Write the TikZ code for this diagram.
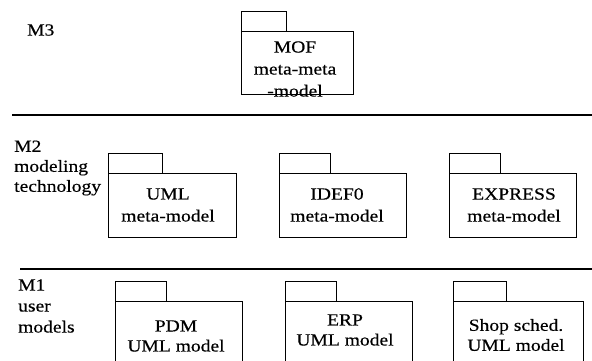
\documentclass[tikz,border=0pt]{standalone}
\usepackage{fontspec}
\setmainfont{Liberation Serif}[FakeStretch=1.15,FakeBold=0.4]
\begin{document}
\begin{tikzpicture}[x=1pt,y=-1pt,
  pkgbody/.style={draw, line width=1pt, rectangle, inner sep=0pt, outer sep=0pt, anchor=north west},
  pkgtab/.style={draw, line width=1pt, rectangle, inner sep=0pt, outer sep=0pt, anchor=south west,
                 minimum height=20pt},
  pkgtext/.style={inner sep=0pt, align=center, font=\fontsize{17}{22}\selectfont},
  pkgtextlow/.style={inner sep=0pt, align=center, font=\fontsize{17}{20}\selectfont},
  levellabel/.style={inner sep=0pt, anchor=west, align=left},
  divider/.style={line width=1.1pt}]
  \clip (0,0) rectangle (592,360);
  \fill[white] (0,0) rectangle (592,360);

  % level M3
  \node[levellabel, font=\fontsize{17}{20}\selectfont] (m3) at (27,30) {M3};
  \node[pkgbody, minimum width=112pt, minimum height=63pt] (mof) at (241,31) {};
  \node[pkgtab, minimum width=45pt] (moftab) at (mof.north west) {};
  \node[pkgtext] (moftxt) at (295,69) {MOF\\meta-meta\\-model};

  \coordinate (d1a) at (12,115);
  \coordinate (d1b) at (592,115);
  \draw[divider] (d1a) -- (d1b);

  % level M2
  \node[levellabel, font=\fontsize{17}{20}\selectfont] (m2) at (14,168) {M2\\modeling\\technology};
  \node[pkgbody, minimum width=128pt, minimum height=64pt] (uml) at (108,173) {};
  \node[pkgtab, minimum width=54pt] (umltab) at (uml.north west) {};
  \node[pkgtext] (umltxt) at (168,205) {UML\\meta-model};

  \node[pkgbody, minimum width=127pt, minimum height=64pt] (idef) at (279,173) {};
  \node[pkgtab, minimum width=51pt] (ideftab) at (idef.north west) {};
  \node[pkgtext] (ideftxt) at (337,205) {IDEF0\\meta-model};

  \node[pkgbody, minimum width=127pt, minimum height=64pt] (expr) at (449,173) {};
  \node[pkgtab, minimum width=51pt] (exprtab) at (expr.north west) {};
  \node[pkgtext] (exprtxt) at (514,205) {EXPRESS\\meta-model};

  \coordinate (d2a) at (20,269);
  \coordinate (d2b) at (592,269);
  \draw[divider] (d2a) -- (d2b);

  % level M1
  \node[levellabel, font=\fontsize{17}{21}\selectfont] (m1) at (18,306) {M1\\user\\models};
  \node[pkgbody, minimum width=127pt, minimum height=70pt] (pdm) at (115,301) {};
  \node[pkgtab, minimum width=51pt] (pdmtab) at (pdm.north west) {};
  \node[pkgtextlow] (pdmtxt) at (176,336) {PDM\\UML model};

  \node[pkgbody, minimum width=127pt, minimum height=70pt] (erp) at (285,301) {};
  \node[pkgtab, minimum width=51pt] (erptab) at (erp.north west) {};
  \node[pkgtextlow] (erptxt) at (345,330) {ERP\\UML model};

  \node[pkgbody, minimum width=130pt, minimum height=70pt] (shop) at (453,301) {};
  \node[pkgtab, minimum width=53pt] (shoptab) at (shop.north west) {};
  \node[pkgtextlow] (shoptxt) at (516,335) {Shop sched.\\UML model};
\end{tikzpicture}
\end{document}
